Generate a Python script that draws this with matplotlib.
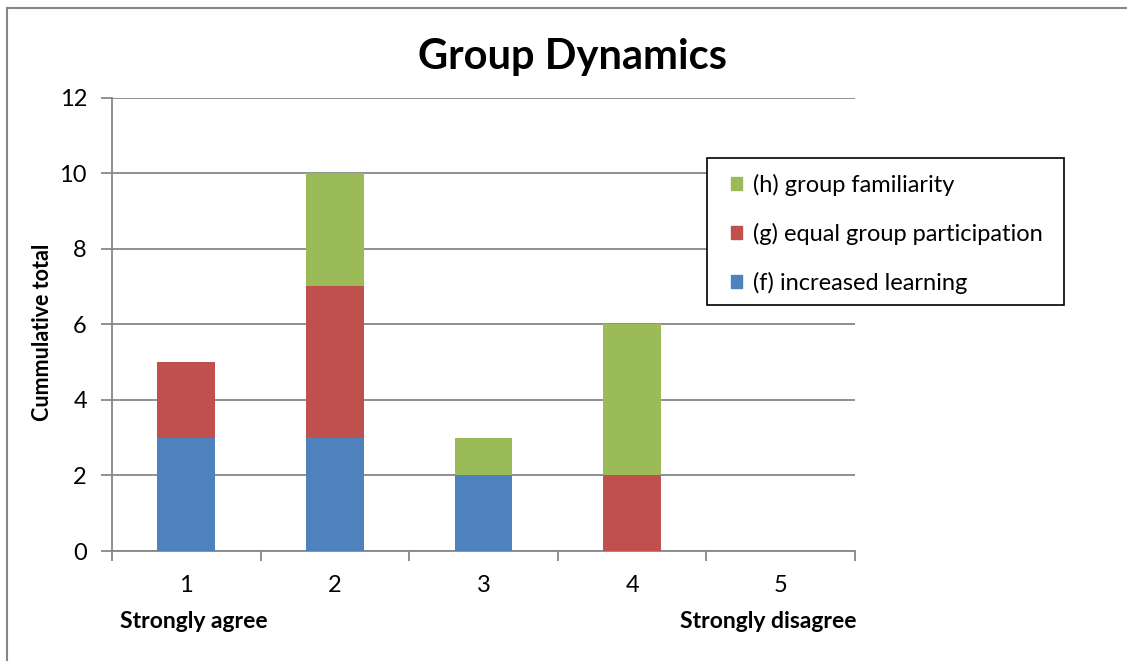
import matplotlib.pyplot as plt
import numpy as np
from matplotlib.lines import Line2D
from matplotlib.patches import Patch, Rectangle

plt.rcParams['font.family'] = ['Lato', 'DejaVu Sans']

# Responses on a 1..5 scale
categories = ['1', '2', '3', '4', '5']
increased_learning = [3, 3, 2, 0, 0]      # (f)
equal_participation = [2, 4, 0, 2, 0]     # (g)
group_familiarity = [0, 3, 1, 4, 0]       # (h)

blue = '#4F81BD'
red = '#C0504D'
green = '#9BBB59'
grey = '#878787'

W, H = 1127, 661
fig = plt.figure(figsize=(W / 100, H / 100), dpi=100)
ax = fig.add_axes([112 / W, 1 - 551 / H, (855 - 112) / W, (551 - 97.5) / H])

x = np.arange(1, len(categories) + 1)
width = 0.39
f = np.array(increased_learning)
g = np.array(equal_participation)
h = np.array(group_familiarity)

ax.bar(x, f, width, color=blue, zorder=3)
ax.bar(x, g, width, bottom=f, color=red, zorder=3)
ax.bar(x, h, width, bottom=f + g, color=green, zorder=3)

ax.set_xlim(0.5, 5.5)
ax.set_ylim(0, 12)
ax.set_yticks(range(0, 13, 2))
ax.set_xticks(x)
ax.set_xticklabels(categories)
ax.set_xticks(np.arange(0.5, 5.6, 1), minor=True)
ax.tick_params(axis='x', which='major', length=0, pad=17, labelsize=17)
ax.tick_params(axis='x', which='minor', length=7, width=1.3, color=grey, direction='out')
ax.tick_params(axis='y', length=8, width=1.3, color=grey, direction='out', pad=10, labelsize=17)

ax.grid(axis='y', color=grey, linewidth=1.3, zorder=0)
for side in ['top', 'right']:
    ax.spines[side].set_visible(False)
for side in ['left', 'bottom']:
    ax.spines[side].set_color(grey)
    ax.spines[side].set_linewidth(1.3)

fig.text(572 / W, 1 - 57 / H, 'Group Dynamics', ha='center', va='center',
         fontsize=30, fontweight='bold')
fig.text(43 / W, 1 - 332 / H, 'Cummulative total', ha='center', va='center',
         rotation=90, fontsize=15.5, fontweight='bold')
fig.text(120 / W, 1 - 622 / H, 'Strongly agree', ha='left', va='center',
         fontsize=16.5, fontweight='bold')
fig.text(857 / W, 1 - 622 / H, 'Strongly disagree', ha='right', va='center',
         fontsize=16.5, fontweight='bold')

# legend box drawn separately so its padding can match the original
fig.add_artist(Rectangle((707 / W, 1 - 305 / H), (1064 - 707) / W, (305 - 158) / H,
                         transform=fig.transFigure, facecolor='white',
                         edgecolor='black', linewidth=1.2, zorder=4))
handles = [Patch(color=green), Patch(color=red), Patch(color=blue)]
labels = ['(h) group familiarity', '(g) equal group participation', '(f) increased learning']
leg = fig.legend(handles, labels, loc='upper left',
                 bbox_to_anchor=(731 / W, 1 - 173.5 / H), fontsize=17,
                 frameon=False, handlelength=0.45, handleheight=0.45,
                 handletextpad=0.47, labelspacing=1.15, borderpad=0,
                 borderaxespad=0)
leg.set_zorder(5)

# outer chart frame
fig.add_artist(Line2D([7 / W, 1], [1 - 8 / H, 1 - 8 / H], color=grey, linewidth=1.5))
fig.add_artist(Line2D([7 / W, 7 / W], [0, 1 - 8 / H], color=grey, linewidth=1.5))

fig.savefig('out.png', dpi=100, facecolor='white')
